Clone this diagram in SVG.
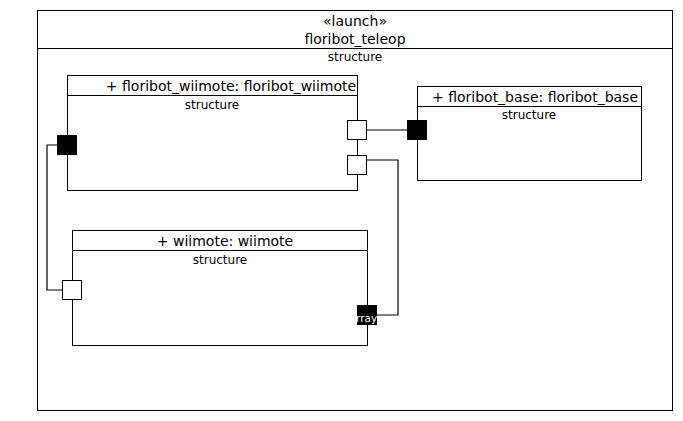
<svg xmlns="http://www.w3.org/2000/svg" width="683" height="421" viewBox="0 0 683 421">
<style>
.box{fill:#fff;stroke:#000;stroke-width:1}
.t{font-family:"DejaVu Sans",sans-serif;font-size:14px;fill:#000;text-anchor:middle}
.s{font-family:"DejaVu Sans",sans-serif;font-size:12px;fill:#000;text-anchor:middle}
.pw{fill:#fff;stroke:#000;stroke-width:1}
.pb{fill:#000;stroke:#000;stroke-width:1}
.c{fill:none;stroke:#000;stroke-width:1.2}
</style>
<rect width="683" height="421" fill="#fff"/>
<g id="floribot_teleop">
<rect class="box" x="37.5" y="10.5" width="635" height="400"/>
<line x1="37.5" y1="48.5" x2="672.5" y2="48.5" stroke="#000"/>
<text class="t" x="355" y="26">«launch»</text>
<text class="t" x="355" y="44">floribot_teleop</text>
<text class="s" x="355" y="61">structure</text>
</g>
<g id="floribot_wiimote">
<rect class="box" x="67.5" y="75.5" width="290" height="115"/>
<line x1="67.5" y1="95.5" x2="357.5" y2="95.5" stroke="#000"/>
<text class="t" x="231" y="91">+ floribot_wiimote: floribot_wiimote</text>
<text class="s" x="212" y="109">structure</text>
</g>
<g id="floribot_base">
<rect class="box" x="417.5" y="86.5" width="224" height="94"/>
<line x1="417.5" y1="106.5" x2="641.5" y2="106.5" stroke="#000"/>
<text class="t" x="535" y="102">+ floribot_base: floribot_base</text>
<text class="s" x="529" y="119">structure</text>
</g>
<g id="wiimote">
<rect class="box" x="72.5" y="230.5" width="295" height="115"/>
<line x1="72.5" y1="250.5" x2="367.5" y2="250.5" stroke="#000"/>
<text class="t" x="225" y="246">+ wiimote: wiimote</text>
<text class="s" x="220" y="264">structure</text>
</g>
<g id="connectors">
<polyline class="c" points="367,130 407,130"/>
<polyline class="c" points="57,145 47,145 47,290 62,290"/>
<polyline class="c" points="367,160 398,160 398,315 377,315"/>
</g>
<g id="ports">
<rect class="pb" x="57.5" y="135.5" width="19" height="19"/>
<rect class="pw" x="347.5" y="120.5" width="19" height="19"/>
<rect class="pw" x="347.5" y="155.5" width="19" height="19"/>
<rect class="pb" x="407.5" y="120.5" width="19" height="19"/>
<rect class="pw" x="62.5" y="280.5" width="19" height="19"/>
<rect class="pb" x="357.5" y="305.5" width="19" height="19"/>
<text x="356" y="322" font-family="DejaVu Sans,sans-serif" font-size="10.5" fill="#fff">rray</text>
</g>
</svg>
